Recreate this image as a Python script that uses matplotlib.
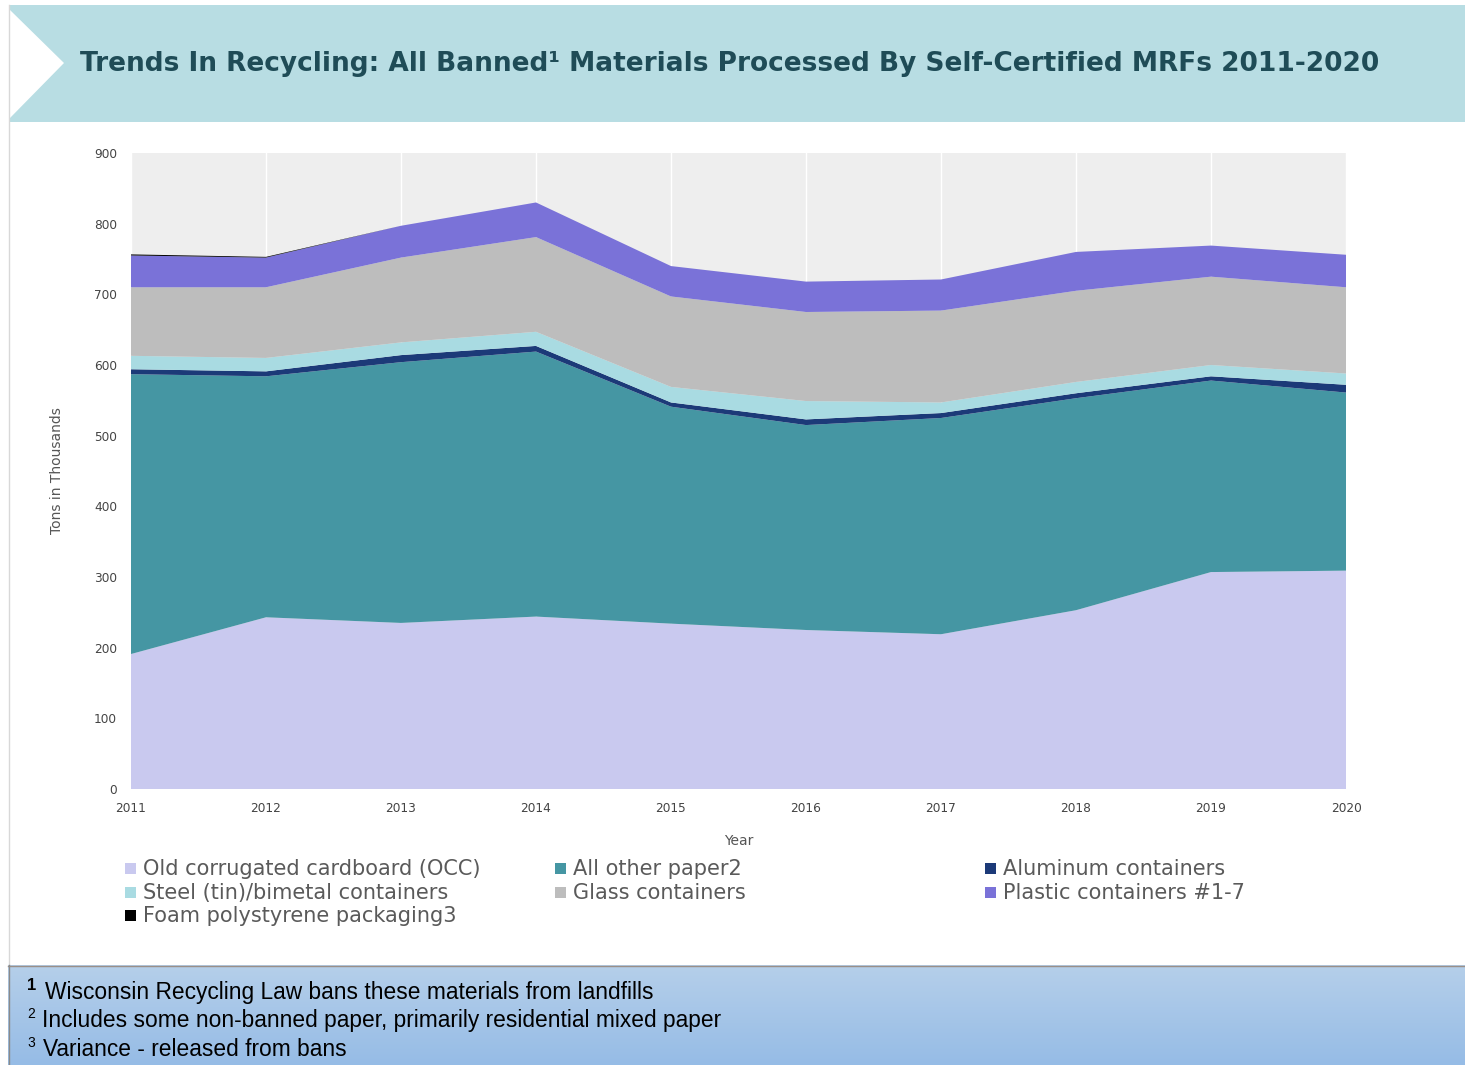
import matplotlib as mpl
mpl.use('agg')
import matplotlib.pyplot as plt
import numpy as np
from matplotlib.patches import Polygon, Rectangle

years = [2011, 2012, 2013, 2014, 2015, 2016, 2017, 2018, 2019, 2020]
occ = [191, 243, 235, 244, 234, 225, 219, 253, 307, 309]
paper = [396, 341, 369, 375, 307, 290, 306, 300, 271, 252]
aluminum = [7, 7, 10, 8, 6, 8, 7, 7, 6, 11]
steel = [19, 19, 18, 20, 22, 26, 15, 16, 16, 16]
glass = [97, 100, 120, 134, 128, 126, 130, 129, 125, 122]
plastic = [45, 42, 45, 49, 43, 43, 44, 55, 44, 46]
foam = [1.5, 1, 0, 0, 0, 0, 0, 0, 0, 0]

labels = ['Old corrugated cardboard (OCC)', 'All other paper2', 'Aluminum containers',
          'Steel (tin)/bimetal containers', 'Glass containers', 'Plastic containers #1-7',
          'Foam polystyrene packaging3']
colors = ['#c9c9ef', '#4596a3', '#1c3a78', '#a9dbe2', '#bdbdbd', '#7a72d8', '#000000']
series = [occ, paper, aluminum, steel, glass, plastic, foam]

W, H = 1465, 1065
fig = plt.figure(figsize=(W / 100, H / 100), dpi=100)

# background layer in pixel coords
bg = fig.add_axes([0, 0, 1, 1])
bg.set_xlim(0, W)
bg.set_ylim(H, 0)
bg.axis('off')
bg.add_patch(Polygon([(10, 5), (W, 5), (W, 122), (10, 122), (10, 118), (64, 63), (10, 10)],
                     closed=True, facecolor='#b8dde3', edgecolor='none'))
bg.plot([9, 9], [5, 965], color='#d8d8d8', lw=1)
bg.text(80, 64, 'Trends In Recycling: All Banned\u00b9 Materials Processed By Self-Certified MRFs 2011-2020',
        fontsize=19, fontweight='bold', color='#1f4c57', va='center', ha='left')

# footnote box with vertical gradient
grad = np.linspace(0, 1, 100).reshape(-1, 1)
cmap = mpl.colors.LinearSegmentedColormap.from_list('fb', ['#b5cfea', '#96bce6'])
bg.imshow(grad, extent=[8, W, H, 965], cmap=cmap, aspect='auto', zorder=1)
bg.plot([8, W], [965.5, 965.5], color='#9a8f88', lw=1, zorder=2)
bg.plot([8.5, 8.5], [965, H], color='#8a8a8a', lw=1, zorder=2)
bg.set_xlim(0, W)
bg.set_ylim(H, 0)
nf = ['Liberation Sans', 'DejaVu Sans']
bg.text(27, 985, '1', fontsize=12, fontweight='bold', family=nf, va='center', zorder=3)
bg.text(45, 992, 'Wisconsin Recycling Law bans these materials from landfills', fontsize=16.4,
        family=nf, va='center', zorder=3)
bg.text(27, 1014, '2', fontsize=10, family=nf, va='center', zorder=3)
bg.text(42, 1021, 'Includes some non-banned paper, primarily residential mixed paper', fontsize=16.4,
        family=nf, va='center', zorder=3)
bg.text(27, 1043, '3', fontsize=10, family=nf, va='center', zorder=3)
bg.text(43, 1050, 'Variance - released from bans', fontsize=16.4, family=nf, va='center', zorder=3)

# main chart
ax = fig.add_axes([131 / W, (H - 789) / H, 1215 / W, 636 / H])
ax.set_facecolor('#eeeeee')
ax.stackplot(years, *series, colors=colors, linewidth=0, zorder=2)
for yr in years:
    ax.axvline(yr, color='white', lw=1, zorder=1)
ax.set_xlim(2011, 2020)
ax.set_ylim(0, 900)
ax.set_xticks(years)
ax.set_yticks(range(0, 901, 100))
for s in ax.spines.values():
    s.set_visible(False)
ax.tick_params(axis='both', length=0, labelsize=8.7, labelcolor='#444444')
ax.tick_params(axis='y', pad=10)
ax.tick_params(axis='x', pad=9)
ax.set_ylabel('Tons in Thousands', fontsize=10, color='#555555', labelpad=22)
ax.set_xlabel('Year', fontsize=10, color='#555555', labelpad=14)

# legend, laid out like the original (three fixed columns)
col_x = [125, 555, 985]
row_y = [869, 893, 916]
for i, (lab, col) in enumerate(zip(labels, colors)):
    x = col_x[i % 3]
    y = row_y[i // 3]
    bg.add_patch(Rectangle((x, y - 6), 11, 11, facecolor=col, edgecolor='none'))
    bg.text(x + 18, y, lab, fontsize=15, color='#5a5a5a', va='center', ha='left')

fig.savefig('out.png', dpi=100)
